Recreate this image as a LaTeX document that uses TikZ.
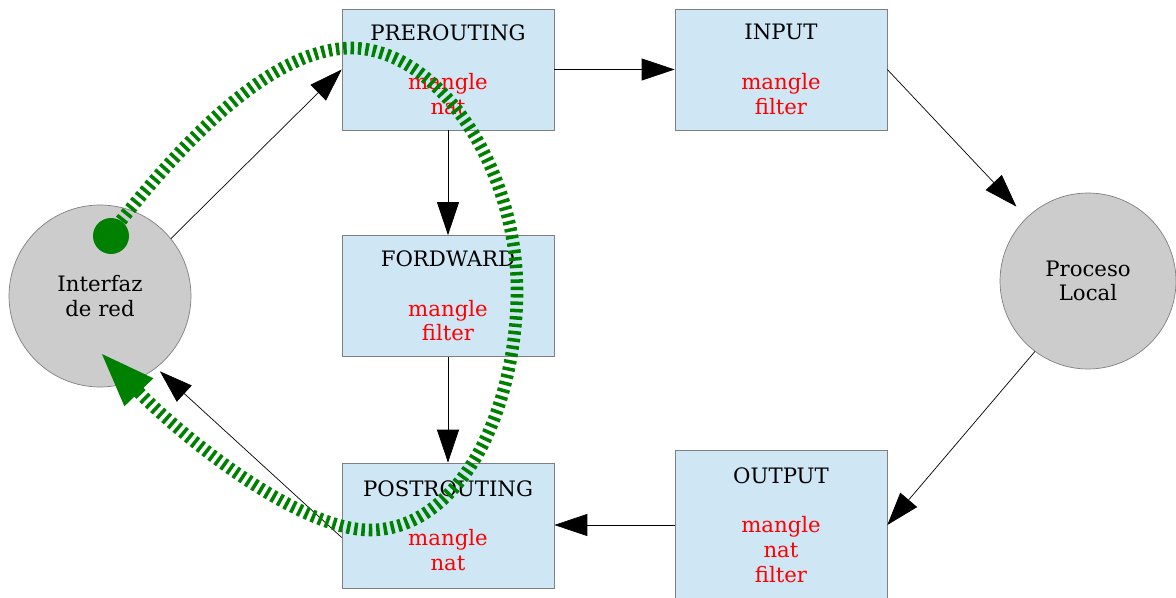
\documentclass[tikz,border=0pt]{standalone}
\usepackage{fontspec}
\setmainfont{DejaVu Serif}
\usepackage{xcolor}
\usetikzlibrary{arrows.meta, positioning}
\definecolor{boxblue}{HTML}{CFE7F5}
\definecolor{discgray}{HTML}{CCCCCC}
\definecolor{edgegray}{HTML}{808080}
\definecolor{pathgreen}{HTML}{008000}
\newcommand{\tbl}[1]{\textcolor{red}{#1}}

\begin{document}
\begin{tikzpicture}[x=0.02cm, y=-0.02cm, font=\fontsize{12.1}{14.1}\selectfont,
  chain/.style={draw=edgegray, fill=boxblue, minimum width=4.24cm, minimum height=2.42cm, align=center, inner sep=0pt},
  host/.style={circle, draw=edgegray, fill=discgray, align=center, inner sep=0pt},
  arr/.style={thin, -{Triangle[length=0.66cm, width=0.44cm]}},
  flow/.style={draw=pathgreen, line width=7.2pt, dash pattern=on 2pt off 2.2pt, -{Triangle[length=1.12cm, width=0.72cm, fill=pathgreen]}}]
\useasboundingbox (0,0) rectangle (1176,598);

% hosts
\node[host, minimum size=3.64cm] (ifz) at (100,296) {Interfaz\\de red};
\node[host, minimum size=3.52cm] (prc) at (1088,281) {Proceso\\Local};

% chains
\node[chain] (pre) at (448,69.5) {PREROUTING\\[14.1pt]\tbl{mangle}\\\tbl{nat}};
\node[chain] (inp) at (781,69.5) {INPUT\\[14.1pt]\tbl{mangle}\\\tbl{filter}};
\node[chain] (fwd) at (448,296) {FORDWARD\\[14.1pt]\tbl{mangle}\\\tbl{filter}};
\node[chain, minimum height=2.5cm] (post) at (448,525.5) {POSTROUTING\\[14.1pt]\tbl{mangle}\\\tbl{nat}};
\node[chain, minimum height=3cm] (out) at (781,525) {OUTPUT\\[14.1pt]\tbl{mangle}\\\tbl{nat}\\\tbl{filter}};

\draw[arr] (ifz.39) -- (pre.west);
\draw[arr] (pre.east) -- (inp.west);
\draw[arr, shorten >=0.3cm] (inp.east) -- (prc.134);
\draw[arr] (pre.south) -- (fwd.north);
\draw[arr] (fwd.south) -- (post.north);
\draw[arr] (prc.233) -- (out.east);
\draw[arr] (out.west) -- (out.west -| post.east);
\draw[arr, shorten >=0.1cm] ([yshift=-0.24cm]post.west) -- (ifz.308);

% packet path
\node[circle, fill=pathgreen, inner sep=0pt, minimum size=0.72cm] (src) at (111,236) {};
\draw[flow] (src.57) .. controls (185,140) and (270,50) .. (350,48)
  .. controls (440,48) and (517,170) .. (517,290)
  .. controls (517,410) and (460,530) .. (370,530)
  .. controls (300,530) and (185,440) .. (100,352);
\end{tikzpicture}
\end{document}
